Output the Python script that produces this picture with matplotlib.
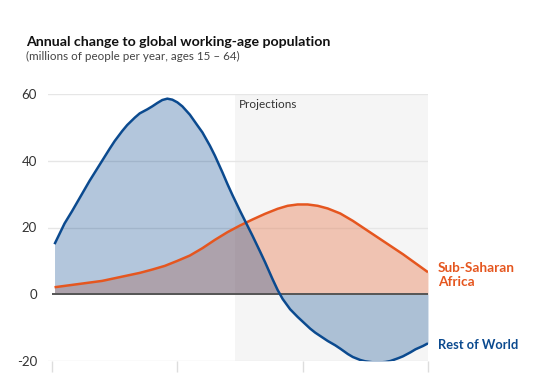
import matplotlib
matplotlib.use("Agg")
import matplotlib.pyplot as plt

plt.rcParams['font.family'] = ['Lato', 'DejaVu Sans']

years = [1951, 1953, 1955, 1958, 1960, 1963, 1965, 1968, 1970, 1973, 1975, 1978,
         1980, 1983, 1985, 1988, 1990, 1992, 1994, 1996, 1998, 2000, 2002, 2005,
         2008, 2010, 2013, 2015, 2018, 2020, 2022, 2025, 2028, 2030, 2033, 2035,
         2038, 2040, 2042, 2045, 2048, 2050, 2053, 2055, 2058, 2060, 2063, 2065,
         2068, 2070, 2073, 2075, 2078, 2080, 2083, 2085, 2088, 2090, 2093, 2095,
         2098, 2100]
rest_of_world = [15, 18.1, 21.2, 24.9, 27.5, 31.4, 34.0, 37.6, 40.0, 43.6, 45.9, 48.9,
                 50.7, 52.9, 54.2, 55.4, 56.3, 57.3, 58.2, 58.6, 58.3, 57.5, 56.3, 53.8,
                 50.6, 48.5, 44.5, 41.5, 36.5, 33, 29.7, 25, 20.5, 17.5, 12.8, 9.6,
                 4.5, 1.3, -1.4, -4.5, -6.8, -8.2, -10.3, -11.5, -13, -14, -15.3, -16.3,
                 -17.9, -18.8, -19.7, -20.1, -20.4, -20.5, -20.3, -20, -19.2, -18.6, -17.4, -16.5,
                 -15.5, -14.7]
ssa_years = [1951, 1955, 1960, 1965, 1970, 1975, 1980, 1985, 1990, 1995, 2000,
             2005, 2010, 2015, 2020, 2025, 2030, 2035, 2040, 2044, 2048, 2052,
             2056, 2060, 2065, 2070, 2075, 2080, 2085, 2090, 2095, 2100]
sub_saharan = [2.1, 2.5, 3.0, 3.5, 4.0, 4.8, 5.6, 6.4, 7.4, 8.5, 10,
               11.6, 13.8, 16.3, 18.6, 20.6, 22.4, 24.1, 25.6, 26.5, 26.9, 26.9,
               26.5, 25.7, 24.2, 22, 19.5, 17, 14.5, 12, 9.3, 6.6]
y_ticks = [-20, 0, 20, 40, 60]
x_ticks = [1950, 2000, 2050, 2100]
projection_start = 2023

blue = '#0b4a8f'
orange = '#e5561f'

fig = plt.figure(figsize=(5.38, 3.75), dpi=100)
ax = fig.add_axes([48/538, 1-361/375, 380/538, 267/375])
ax.set_xlim(1948.4, 2100)
ax.set_ylim(-20, 60)

ax.axvspan(projection_start, 2100, color='#f5f5f5', zorder=0, lw=0)
for yt in y_ticks:
    if yt != 0:
        ax.axhline(yt, color='#e6e6e6', lw=1, zorder=1)

ax.fill_between(ssa_years, 0, sub_saharan, color=orange, alpha=0.31, lw=0, zorder=2)
ax.fill_between(years, 0, rest_of_world, color=blue, alpha=0.31, lw=0, zorder=2)
ax.plot([1950, 2100], [0, 0], color='#555555', lw=1.4, zorder=3, solid_capstyle='butt')
ax.plot(ssa_years, sub_saharan, color=orange, lw=1.8, zorder=4,
        solid_capstyle='butt', solid_joinstyle='round')
ax.plot(years, rest_of_world, color=blue, lw=1.8, zorder=5,
        solid_capstyle='butt', solid_joinstyle='round')

for s in ax.spines.values():
    s.set_visible(False)
ax.set_yticks(y_ticks)
ax.set_yticklabels([str(v) for v in y_ticks], fontsize=9.5, color='#333333')
ax.tick_params(axis='y', length=0, pad=8)
ax.set_xticks(x_ticks)
ax.tick_params(axis='x', length=8, color='#dddddd', width=1, labelbottom=False)

ax.text(projection_start + 1.5, 58.5, 'Projections', fontsize=8.5, color='#333333',
        va='top', ha='left')

ax.text(2104, 5.7, 'Sub-Saharan\nAfrica', fontsize=9.8, fontweight='bold',
        color=orange, va='center', ha='left', linespacing=1.15)
ax.text(2104, -15.3, 'Rest of World', fontsize=9.3, fontweight='bold',
        color=blue, va='center', ha='left')

fig.text(26/538, 1-46/375, 'Annual change to global working-age population',
         fontsize=10.2, fontweight='bold', color='#111111', ha='left', va='baseline')
fig.text(26/538, 1-60/375, '(millions of people per year, ages 15 – 64)',
         fontsize=8.4, color='#444444', ha='left', va='baseline')

fig.savefig('out.png', dpi=100)
